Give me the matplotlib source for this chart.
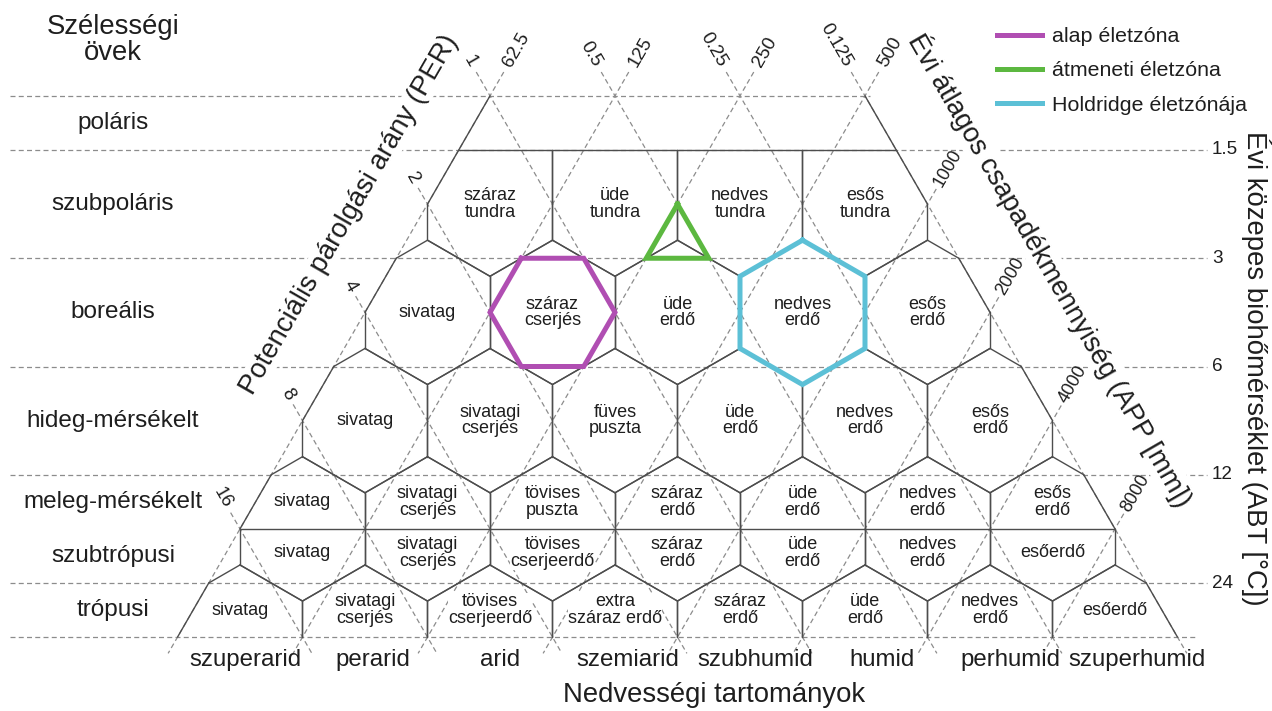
import numpy as np
import matplotlib
matplotlib.use("Agg")
import matplotlib.pyplot as plt
from matplotlib.lines import Line2D

plt.rcParams['font.family'] = ['Liberation Sans', 'DejaVu Sans']

# ---------------- data ----------------
temp_levels = [1.5, 3, 6, 12, 24]                 # biotemperature guide lines (°C)
temp_labels = ['1.5', '3', '6', '12', '24']
precip_levels = [62.5, 125, 250, 500, 1000, 2000, 4000, 8000]   # mm
precip_labels = ['62.5', '125', '250', '500', '1000', '2000', '4000', '8000']
per_levels = [16, 8, 4, 2, 1, 0.5, 0.25, 0.125]   # potential evapotranspiration ratio
per_labels = ['16', '8', '4', '2', '1', '0.5', '0.25', '0.125']
frost_temp = 17                                   # critical temperature line (°C)

belt_labels = ['poláris', 'szubpoláris', 'boreális', 'hideg-mérsékelt',
               'meleg-mérsékelt', 'szubtrópusi', 'trópusi']
humidity_labels = ['szuperarid', 'perarid', 'arid', 'szemiarid',
                   'szubhumid', 'humid', 'perhumid', 'szuperhumid']

row_tundra = ['száraz\ntundra', 'üde\ntundra', 'nedves\ntundra', 'esős\ntundra']
row_boreal = ['sivatag', 'száraz\ncserjés', 'üde\nerdő', 'nedves\nerdő', 'esős\nerdő']
row_cool = ['sivatag', 'sivatagi\ncserjés', 'füves\npuszta', 'üde\nerdő',
            'nedves\nerdő', 'esős\nerdő']
row_warm = ['sivatag', 'sivatagi\ncserjés', 'tövises\npuszta', 'száraz\nerdő',
            'üde\nerdő', 'nedves\nerdő', 'esős\nerdő']
row_subtrop = ['sivatag', 'sivatagi\ncserjés', 'tövises\ncserjeerdő', 'száraz\nerdő',
               'üde\nerdő', 'nedves\nerdő', 'esőerdő']
row_trop = ['sivatag', 'sivatagi\ncserjés', 'tövises\ncserjeerdő', 'extra\nszáraz erdő',
            'száraz\nerdő', 'üde\nerdő', 'nedves\nerdő', 'esőerdő']

legend_labels = ['alap életzóna', 'átmeneti életzóna', 'Holdridge életzónája']
legend_colors = ['#B04EB2', '#5CB840', '#5CC0D6']

# highlighted examples (given in climate values)
basic_zone = dict(P=(125, 250), PER=(1, 2), T=(3, 6))        # magenta hexagon
transition_zone = dict(P=250, PER=0.5, T=3)                  # green triangle
holdridge_zone = dict(row=1, col=3)                          # cyan hexagon

# ---------------- geometry helpers (log scales) ----------------
T0, P0 = 1.5, 62.5


def t_of(T):
    return np.log2(T / T0)


def uv(P, PER):
    p, q = np.log2(P / P0), -np.log2(PER)
    return (p + q) / 2 - 1.5, p - q - 0.5


def precip_u(P, t):
    return np.log2(P / P0) - 1.75 - t / 2


def per_u(PER, t):
    return -np.log2(PER) - 1.25 + t / 2


t_top = t_of(temp_levels[0]) - 0.5
t_zero = t_of(temp_levels[0])
t_bot = t_of(temp_levels[-1]) + 0.5
t_frost = t_of(frost_temp)

HEX = [(0, -2 / 3), (0.5, -1 / 3), (0.5, 1 / 3), (0, 2 / 3), (-0.5, 1 / 3), (-0.5, -1 / 3)]
HEX_TOP = [(-0.5, -0.5), (0.5, -0.5), (0.5, 1 / 3), (0, 2 / 3), (-0.5, 1 / 3)]


def hex_center(k, j):
    return uv(P0 * 2 ** (j + 0.5), 2 ** (k + 0.5 - j))


def clip(poly, f):
    out = []
    n = len(poly)
    for i in range(n):
        a, b = poly[i], poly[(i + 1) % n]
        fa, fb = f(a), f(b)
        ina, inb = fa >= -1e-9, fb >= -1e-9
        if ina:
            out.append(a)
        if ina != inb:
            s = fa / (fa - fb)
            out.append((a[0] + s * (b[0] - a[0]), a[1] + s * (b[1] - a[1])))
    return out


planes = [lambda pt: pt[0] + pt[1] / 2 + 1.75,
          lambda pt: 1.75 - (pt[0] - pt[1] / 2),
          lambda pt: pt[1] - t_zero,
          lambda pt: t_bot - pt[1]]

# ---------------- figure ----------------
W, H = 1272, 711
fig = plt.figure(figsize=(W / 100, H / 100), dpi=100)
ax = fig.add_axes([0, 0, 1, 1])
XC, SX, YC, SY = 677.5, 125.0, 150.0, 108.25
ax.set_xlim((0 - XC) / SX, (W - XC) / SX)
ax.set_ylim((H - YC) / SY, (0 - YC) / SY)
ax.axis('off')


def ux(px):
    return (px - XC) / SX


def ty(py):
    return (py - YC) / SY


DASH = dict(color='#8c8c8c', lw=0.9, ls=(0, (4, 2.6)), zorder=1)
SOLID = dict(color='#4d4d4d', lw=1.0, zorder=2, solid_capstyle='round')
TXT = '#1e1e1e'

# horizontal guide lines
ax.plot([ux(10), ux(870)], [t_top, t_top], **DASH)
for T in temp_levels:
    ax.plot([ux(10), ux(1207)], [t_of(T)] * 2, **DASH)
ax.plot([ux(10), ux(1195)], [t_bot, t_bot], **DASH)

# diagonal guide lines
t_end = t_bot + 0.15
for P, lab in zip(precip_levels, precip_labels):
    p = np.log2(P / P0)
    t_in = max(t_top, p - 3.5)
    top = t_in == t_top
    t0 = t_in - (0.22 if top else 0.14)
    ax.plot([precip_u(P, t0), precip_u(P, t_end)], [t0, t_end], **DASH)
    ta = t_in - (0.28 if top else 0.17)
    ax.text(precip_u(P, ta), ta, lab, rotation=60, rotation_mode='anchor',
            ha='left', va='center', fontsize=13.5 if top else 13, color=TXT, zorder=4)
for PER, lab in zip(per_levels, per_labels):
    q = -np.log2(PER)
    t_in = max(t_top, -0.5 - q)
    top = t_in == t_top
    t0 = t_in - (0.22 if top else 0.15)
    ax.plot([per_u(PER, t0), per_u(PER, t_end)], [t0, t_end], **DASH)
    ta = t_in - (0.28 if top else 0.2)
    ax.text(per_u(PER, ta), ta, lab, rotation=-60, rotation_mode='anchor',
            ha='right', va='center', fontsize=13.5, color=TXT, zorder=4)

# polar part of the triangle sides
ax.plot([precip_u(precip_levels[0], t_top), precip_u(precip_levels[0], t_zero)],
        [t_top, t_zero], **SOLID)
ax.plot([per_u(per_levels[-1], t_top), per_u(per_levels[-1], t_zero)],
        [t_top, t_zero], **SOLID)

# hexagon life-zone network
n_rows = 5
for k in range(n_rows):
    for j in range(k + 4):
        cu, ct = hex_center(k, j)
        shape = HEX_TOP if k == 0 else HEX
        poly = [(cu + du, ct + dt) for du, dt in shape]
        for f in planes:
            poly = clip(poly, f)
        for i in range(len(poly)):
            a, b = poly[i], poly[(i + 1) % len(poly)]
            if abs(a[1] - t_bot) < 1e-6 and abs(b[1] - t_bot) < 1e-6:
                continue
            if np.hypot(a[0] - b[0], a[1] - b[1]) < 1e-9:
                continue
            ax.plot([a[0], b[0]], [a[1], b[1]], **SOLID)

# critical temperature line
ax.plot([precip_u(precip_levels[0], t_frost), per_u(per_levels[-1], t_frost)],
        [t_frost, t_frost], **SOLID)

# zone names
label_rows = [
    (0, row_tundra, None),
    (1, row_boreal, None),
    (2, row_cool, None),
    (3, row_warm, (t_of(temp_levels[3]) + t_frost) / 2),
    (3, row_subtrop, (t_frost + t_of(temp_levels[4])) / 2 - 0.03),
    (4, row_trop, (t_of(temp_levels[4]) + t_bot) / 2),
]
for k, names, tl in label_rows:
    for j, name in enumerate(names):
        cu, ct = hex_center(k, j)
        ax.text(cu, ct if tl is None else tl, name, ha='center', va='center',
                fontsize=13, color=TXT, linespacing=0.95, zorder=3,
                bbox=dict(facecolor='white', edgecolor='none', pad=0.3))

# latitude belt labels
belt_t = [(t_top + t_zero) / 2] + [t_of(T) + 0.5 for T in temp_levels[:3]] + \
         [(t_of(temp_levels[3]) + t_frost) / 2, (t_frost + t_of(temp_levels[4])) / 2,
          (t_of(temp_levels[4]) + t_bot) / 2]
for lab, tb in zip(belt_labels, belt_t):
    ax.text(ux(113), tb, lab, ha='center', va='center', fontsize=17.5, color=TXT)
ax.text(ux(113), ty(40), 'Szélességi\növek', ha='center', va='center',
        fontsize=19.8, color=TXT, linespacing=0.95)

# humidity province labels
for j, lab in enumerate(humidity_labels):
    cu, _ = hex_center(4, j)
    ax.text(cu + 0.04 + 0.02 * j, ty(660), lab, ha='center', va='center',
            fontsize=17.3, color=TXT)
ax.text(ux(714), ty(695), 'Nedvességi tartományok', ha='center', va='center',
        fontsize=19.8, color=TXT)

# biotemperature tick labels
for T, lab in zip(temp_levels, temp_labels):
    ax.text(ux(1212), t_of(T), lab, ha='left', va='center', fontsize=13.6, color=TXT)

# axis titles
WB = dict(facecolor='white', edgecolor='none', pad=0.5)
ax.text(ux(349), ty(215), 'Potenciális párolgási arány (PER)', rotation=60,
        rotation_mode='anchor', ha='center', va='center', fontsize=19.8, color=TXT,
        zorder=3, bbox=WB)
ax.text(ux(1050), ty(270), 'Évi átlagos csapadékmennyiség (APP [mm])', rotation=-60,
        rotation_mode='anchor', ha='center', va='center', fontsize=19.8, color=TXT,
        zorder=3, bbox=WB)
ax.text(ux(1256), ty(368), 'Évi közepes biohőmérséklet (ABT [°C])', rotation=-90,
        rotation_mode='anchor', ha='center', va='center', fontsize=19.8, color=TXT,
        zorder=3, bbox=WB)

# highlighted zones
Pl, Ph = basic_zone['P']
El, Eh = basic_zone['PER']
Tl, Th = basic_zone['T']
mag = [(precip_u(Pl, t_of(Tl)), t_of(Tl)), (per_u(El, t_of(Tl)), t_of(Tl)),
       uv(Ph, El), (precip_u(Ph, t_of(Th)), t_of(Th)),
       (per_u(Eh, t_of(Th)), t_of(Th)), uv(Pl, Eh)]
mag.append(mag[0])
ax.plot([m[0] for m in mag], [m[1] for m in mag], color=legend_colors[0], lw=3.6,
        zorder=5, solid_joinstyle='miter')

tz = transition_zone
tri = [uv(tz['P'], tz['PER']), (per_u(tz['PER'], t_of(tz['T'])), t_of(tz['T'])),
       (precip_u(tz['P'], t_of(tz['T'])), t_of(tz['T']))]
tri.append(tri[0])
ax.plot([m[0] for m in tri], [m[1] for m in tri], color=legend_colors[1], lw=3.6,
        zorder=5, solid_joinstyle='miter')

cu, ct = hex_center(holdridge_zone['row'], holdridge_zone['col'])
hx = [(cu + du, ct + dt) for du, dt in HEX]
hx.append(hx[0])
ax.plot([m[0] for m in hx], [m[1] for m in hx], color=legend_colors[2], lw=3.6,
        zorder=5, solid_joinstyle='miter')

# legend
handles = [Line2D([], [], color=c, lw=3.6) for c in legend_colors]
ax.legend(handles, legend_labels, loc='upper left', bbox_to_anchor=(997 / W, 1 - 27 / H),
          frameon=False, fontsize=15.4, handlelength=2.1, handletextpad=0.45,
          labelspacing=0.72, borderaxespad=0, borderpad=0, labelcolor=TXT)

fig.savefig('out.png', dpi=100)
